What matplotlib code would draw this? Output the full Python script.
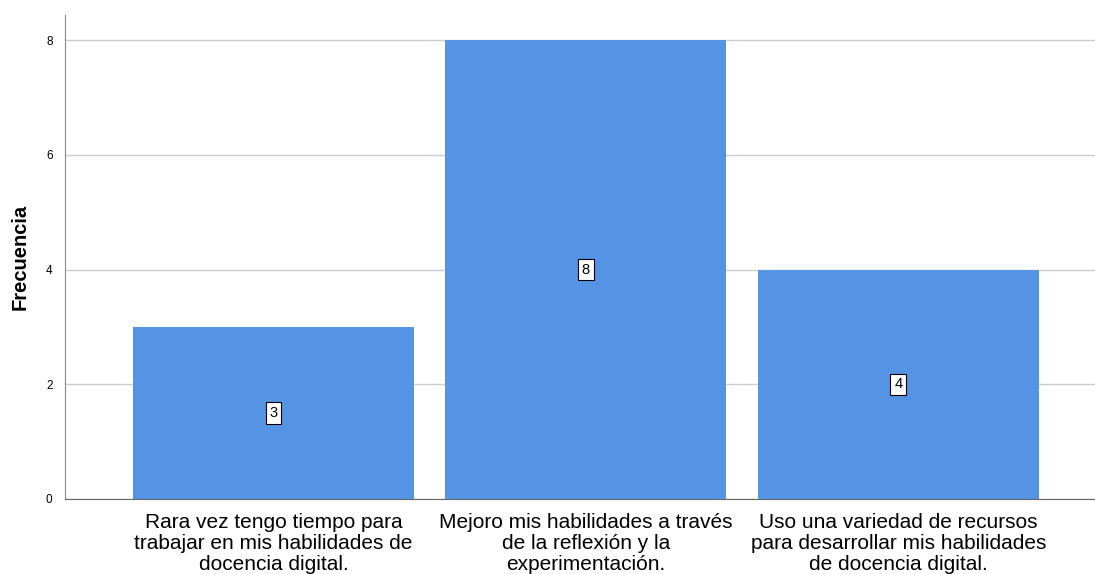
import matplotlib.pyplot as plt

plt.rcParams['font.family'] = ['Liberation Sans', 'DejaVu Sans']

categories = ["Rara vez tengo tiempo para\ntrabajar en mis habilidades de\ndocencia digital.",
              "Mejoro mis habilidades a través\nde la reflexión y la\nexperimentación.",
              "Uso una variedad de recursos\npara desarrollar mis habilidades\nde docencia digital."]
counts = [3, 8, 4]
yticks = [0, 2, 4, 6, 8]

fig = plt.figure(figsize=(10.95, 5.74), dpi=100)
ax = fig.add_axes([0.0594, 0.1307, 0.9406, 0.8433])

x = list(range(len(counts)))
ax.bar(x, counts, width=0.9, color='#5594e4', zorder=2)
for xi, c in zip(x, counts):
    ax.text(xi, c / 2, str(c), ha='center', va='center', fontsize=10.5, zorder=3,
            bbox=dict(boxstyle='square,pad=0.25', fc='white', ec='black', lw=0.8))

ax.set_xlim(-0.667, 2.63)
ax.set_ylim(0, 8.44)
ax.set_yticks(yticks)
ax.set_yticklabels([str(t) for t in yticks], fontsize=8.5)
ax.set_xticks(x)
ax.set_xticklabels(categories, fontsize=15, linespacing=1.13)
ax.tick_params(axis='x', length=0, pad=10)
ax.tick_params(axis='y', length=0, pad=9)
ax.yaxis.grid(True, color='#cccccc', lw=1, zorder=0)
ax.set_axisbelow(True)
for s in ['top', 'right']:
    ax.spines[s].set_visible(False)
ax.spines['left'].set_color('#888888')
ax.spines['bottom'].set_color('#666666')
ax.set_ylabel('Frecuencia', fontsize=14.5, fontweight='bold', labelpad=12)

fig.savefig('out.png', dpi=100)
